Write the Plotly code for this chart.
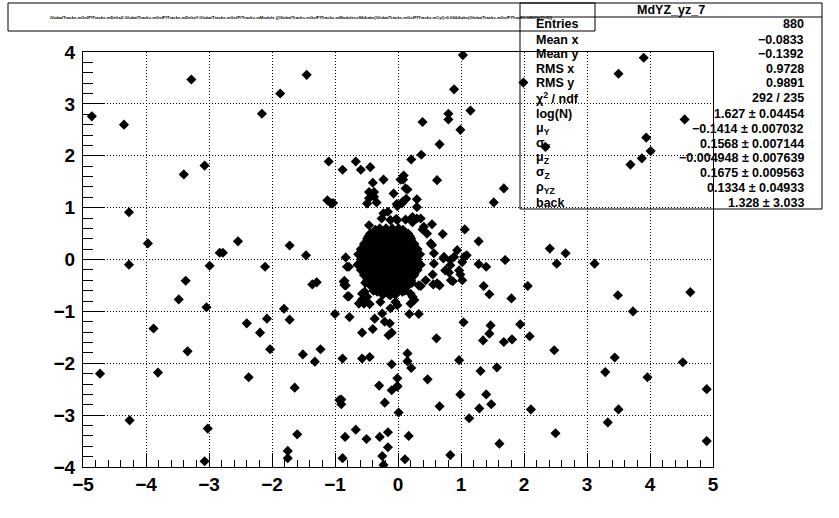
import plotly.graph_objects as go

# ---------------- data ----------------
halo_x = [
    -4.86, -4.35, -3.28, -2.16, -1.87, -1.45, -3.40, -3.07, -4.27, -3.97, -4.27, -2.99, -2.83, -2.78, -2.54,
    -2.11, -1.72, -1.46, -1.10, -0.88, -0.67, -0.59, -0.44, -0.40, -0.38, -0.23, -0.07, 0.04, -1.12, -1.06,
    -0.46, -0.49, -0.34, -0.01, -0.16, -0.26, -0.03, -0.46, -0.83, -0.81,
    1.03, 0.89, 1.99, 3.50, 3.90, 0.80, 0.80, 1.15, 0.39, 0.99, 0.66, 0.37, 0.21, 0.08, 0.15, 0.07, -0.02,
    0.30, 0.30, 0.62, 1.68, 1.52, 4.55, 3.94, 4.01, 3.87, 3.69, 2.34, 0.23, 0.30, 0.54, 0.71, 0.54, 1.06,
    1.28, 0.94, 1.09, 1.70, 1.28, 1.40, 2.41, 2.66, 2.52, 3.12, 0.72, 0.83,
    2.06, 3.49, 4.64, 3.73, 1.80, 1.36, 1.45, 0.87, 0.99, 0.81, 0.55, 0.56, 0.66, 0.36, 0.26, 0.18, 0.33,
    1.04, 0.61, 1.47, 1.45, 1.35, 1.68, 1.81, 1.94, 2.09, 2.48, 3.44, 3.29, 4.52, 3.96, 4.90, 4.90, 0.97,
    0.15, 0.15, 0.21, 1.31, 1.57, 0.47, -0.01, -0.01, 0.99, 1.40, 1.48, 1.29, 0.66, 2.11, 3.50, 3.33, 2.50,
    1.13, 0.01, 0.17, 1.61, 0.83, 0.11,
    -3.37, -3.48, -3.04, -3.88, -3.34, -4.73, -3.81, -4.26, -3.02, -3.07, -2.37, -2.40, -2.19, -2.08, -2.03,
    -1.81, -1.72, -1.64, -1.60, -1.75, -1.75, -1.51, -1.32, -1.23, -1.36, -1.29, -1.00, -0.85, -0.85, -0.80,
    -0.77, -0.62, -0.57, -0.53, -0.45, -0.57, -0.40, -0.37, -0.25, -0.21, -0.13, -0.15, -0.10, -0.88, -0.57,
    -0.45, -0.10, -0.30, -0.10, -0.01, -0.21, -0.93, -0.90, -0.90, -0.67, -0.84, -0.50, -0.29, -0.16, -0.16,
    -0.88, -0.25, -0.23,
    0.09, 0.12, -0.46, -0.38, 0.13, 0.06, -0.23, -0.12, -0.01, 0.12, 0.23, 0.36, 0.41, 0.52, 0.57, 0.73,
    0.89, 1.02, 1.05, 0.57, 0.75, 0.83, 0.97, 1.02, 0.84, 0.62, 0.44, -0.78, -0.86, -0.83, -0.78, -1.03,
    -0.57, -0.49, -0.54, -0.12, -0.28, -0.04, 0.23, 0.33, 0.20, 0.39, 0.46, 0.20, -0.01, -0.12,
]
halo_y = [
    2.76, 2.60, 3.47, 2.81, 3.20, 3.56, 1.64, 1.81, 0.91, 0.31, -0.10, -0.12, 0.13, 0.13, 0.35,
    -0.14, 0.27, 0.08, 1.89, 1.73, 1.89, 1.73, 1.78, 1.48, 1.30, 1.54, 1.27, 1.54, 1.14, 1.08,
    1.18, 1.08, 1.10, 1.03, 0.92, 0.79, 0.78, 0.66, 0.04, -0.14,
    3.94, 3.28, 3.41, 3.58, 3.89, 2.81, 2.70, 2.87, 2.65, 2.50, 2.22, 2.02, 1.93, 1.54, 1.35, 1.11, 1.07,
    1.16, 1.01, 1.53, 1.37, 1.10, 2.70, 2.35, 2.09, 1.95, 1.83, 2.17, 0.82, 0.79, 0.68, 0.49, 0.28, 0.58,
    0.35, 0.18, 0.08, -0.01, -0.09, -0.14, 0.21, 0.12, -0.08, -0.08, 0.02, -0.01,
    -0.51, -0.69, -0.63, -1.00, -0.75, -0.51, -0.67, -0.42, -0.29, -0.25, -0.29, -0.48, -0.50, -0.51, -0.78, -1.05, -1.05,
    -1.21, -1.52, -1.27, -1.43, -1.56, -1.59, -1.54, -1.25, -1.48, -1.75, -1.89, -2.17, -1.98, -2.27, -2.50, -3.50, -1.94,
    -1.81, -1.96, -2.09, -2.15, -2.08, -2.31, -2.29, -2.44, -2.60, -2.60, -2.79, -2.87, -2.83, -2.89, -2.89, -3.14, -3.35,
    -3.06, -2.95, -3.40, -3.55, -3.77, -3.85,
    -0.41, -0.77, -0.92, -1.33, -1.77, -2.20, -2.18, -3.10, -3.26, -3.89, -2.27, -1.23, -1.41, -1.14, -1.73,
    -0.95, -1.16, -2.47, -3.37, -3.69, -3.83, -1.83, -1.97, -1.73, -0.48, -0.44, -1.05, -0.41, -0.49, -0.71,
    -1.11, -0.85, -0.77, -0.62, -0.86, -1.41, -1.34, -1.14, -1.04, -1.20, -1.23, -1.46, -1.41, -1.91, -1.91,
    -1.88, -2.02, -2.43, -2.52, -2.45, -2.76, -2.71, -2.79, -2.70, -3.28, -3.42, -3.46, -3.42, -3.33, -3.62,
    -3.83, -3.79, -3.96,
    1.62, 1.37, 1.30, 1.21, 1.17, 1.08, 0.89, 0.76, 0.76, 0.77, 0.72, 0.79, 0.63, 0.31, 0.12, 0.05,
    0.05, -0.05, 0.05, -0.08, -0.21, -0.11, -0.21, -0.40, -0.40, -0.46, -0.40, -0.14, -0.43, -0.50, -0.71, 1.09,
    -0.66, -0.72, -0.85, -0.69, -0.82, -0.82, -0.72, -0.50, -0.85, 0.58, 0.50, -0.66, -0.88, -0.94,
]

core_x = [
    -0.29, -0.19, -0.09, 0.01,
    -0.44, -0.34, -0.24, -0.14, -0.04, 0.06, 0.16,
    -0.49, -0.39, -0.29, -0.19, -0.09, 0.01, 0.11, 0.21,
    -0.54, -0.44, -0.34, -0.24, -0.14, -0.04, 0.06, 0.16, 0.26,
    -0.59, -0.49, -0.39, -0.29, -0.19, -0.09, 0.01, 0.11, 0.21, 0.31,
    -0.63, -0.54, -0.44, -0.34, -0.24, -0.14, -0.04, 0.06, 0.16, 0.26, 0.35,
    -0.59, -0.49, -0.39, -0.29, -0.19, -0.09, 0.01, 0.11, 0.21, 0.31,
    -0.64, -0.54, -0.44, -0.34, -0.24, -0.14, -0.04, 0.06, 0.16, 0.26, 0.36,
    -0.59, -0.49, -0.39, -0.29, -0.19, -0.09, 0.01, 0.11, 0.21, 0.31,
    -0.54, -0.44, -0.34, -0.24, -0.14, -0.04, 0.06, 0.16, 0.26,
    -0.49, -0.39, -0.29, -0.19, -0.09, 0.01, 0.11, 0.21,
    -0.44, -0.34, -0.24, -0.14, -0.04, 0.06, 0.16,
    -0.39, -0.29, -0.19, -0.09, 0.01, 0.11,
    -0.24, -0.14, -0.04,
    -0.47, 0.19, -0.52, 0.22, -0.36, 0.08, -0.33, 0.07,
]
core_y = [
    0.60, 0.60, 0.60, 0.60,
    0.50, 0.50, 0.50, 0.50, 0.50, 0.50, 0.50,
    0.40, 0.40, 0.40, 0.40, 0.40, 0.40, 0.40, 0.40,
    0.30, 0.30, 0.30, 0.30, 0.30, 0.30, 0.30, 0.30, 0.30,
    0.20, 0.20, 0.20, 0.20, 0.20, 0.20, 0.20, 0.20, 0.20, 0.20,
    0.10, 0.10, 0.10, 0.10, 0.10, 0.10, 0.10, 0.10, 0.10, 0.10, 0.10,
    0.00, 0.00, 0.00, 0.00, 0.00, 0.00, 0.00, 0.00, 0.00, 0.00,
    -0.10, -0.10, -0.10, -0.10, -0.10, -0.10, -0.10, -0.10, -0.10, -0.10, -0.10,
    -0.20, -0.20, -0.20, -0.20, -0.20, -0.20, -0.20, -0.20, -0.20, -0.20,
    -0.30, -0.30, -0.30, -0.30, -0.30, -0.30, -0.30, -0.30, -0.30,
    -0.40, -0.40, -0.40, -0.40, -0.40, -0.40, -0.40, -0.40,
    -0.50, -0.50, -0.50, -0.50, -0.50, -0.50, -0.50,
    -0.60, -0.60, -0.60, -0.60, -0.60, -0.60,
    -0.68, -0.68, -0.68,
    0.45, 0.45, -0.45, -0.45, 0.57, 0.57, -0.62, -0.62,
]

x_ticks = [-5, -4, -3, -2, -1, 0, 1, 2, 3, 4, 5]
x_ticklabels = ["\u22125", "\u22124", "\u22123", "\u22122", "\u22121", "0", "1", "2", "3", "4", "5"]
y_ticks = [-4, -3, -2, -1, 0, 1, 2, 3, 4]
y_ticklabels = ["\u22124", "\u22123", "\u22122", "\u22121", "0", "1", "2", "3", "4"]

hist_name = "MdYZ_yz_7"
title_text = ("GlobalTracks.mGsfPfTracks.mDeltaZ:GlobalTracks.mGsfPfTracks.mDeltaY:GlobalTracks.mGsfPfTracks.mModule "
              "{(GlobalTracks.mGsfPfTracks.mModule==8&&abs(GlobalTracks.mGsfPfTracks.mCyl)<0.06&&"
              "abs(GlobalTracks.mGsfPfTracks.mDeltaY)<5)}")
stat_labels = ["Entries", "Mean x", "Mean y", "RMS x", "RMS y", "\u03c7<sup>2</sup> / ndf", "log(N)",
               "\u03bc<sub>Y</sub>", "\u03c3<sub>Y</sub>", "\u03bc<sub>Z</sub>", "\u03c3<sub>Z</sub>",
               "\u03c1<sub>YZ</sub>", "back"]
stat_values = ["880", "\u22120.0833", "\u22120.1392", "0.9728", "0.9891", "292 / 235",
               "1.627 \u00b1 0.04454", "\u22120.1414 \u00b1 0.007032", "0.1568 \u00b1 0.007144",
               "\u22120.004948 \u00b1 0.007639", "0.1675 \u00b1 0.009563", "0.1334 \u00b1 0.04933",
               "1.328 \u00b1 3.033"]

# ---------------- layout geometry (pixels) ----------------
W, H = 839, 518
PL, PR, PT, PB = 83, 713, 52, 467


def xp(px):
    return (px - PL) / (PR - PL)


def yp(py):
    return (PB - py) / (PB - PT)


FONT = "Liberation Sans, Arial, sans-serif"

fig = go.Figure()
fig.add_trace(go.Scatter(
    x=halo_x + core_x, y=halo_y + core_y, mode="markers",
    marker=dict(symbol="diamond", size=7.8, color="black", line=dict(width=0)),
    hoverinfo="skip", showlegend=False,
))

axis_common = dict(
    showline=True, linecolor="black", linewidth=1, mirror=True,
    ticks="inside", tickcolor="black", tickwidth=1,
    showgrid=True, gridcolor="black", gridwidth=1, griddash="1px,2px",
    zeroline=False,
    tickfont=dict(family=FONT, size=19, color="black", weight="bold"),
)

fig.update_layout(
    width=W, height=H,
    margin=dict(l=PL, r=W - PR, t=PT, b=H - PB, pad=0),
    paper_bgcolor="white", plot_bgcolor="white",
    xaxis=dict(range=[-5, 5], tickmode="array", tickvals=x_ticks, ticktext=x_ticklabels,
               ticklen=14, automargin=False,
               minor=dict(ticks="inside", ticklen=7, tickcolor="black", dtick=0.2, tick0=0, showgrid=False),
               **axis_common),
    yaxis=dict(range=[-4, 4], tickmode="array", tickvals=y_ticks, ticktext=y_ticklabels,
               ticklen=21, ticklabelstandoff=3, automargin=False,
               minor=dict(ticks="inside", ticklen=10, tickcolor="black", dtick=0.2, tick0=0, showgrid=False),
               **axis_common),
    showlegend=False,
)

shapes = []
# title box
shapes.append(dict(type="rect", xref="paper", yref="paper",
                   x0=xp(8), x1=xp(595), y0=yp(31), y1=yp(3),
                   line=dict(color="black", width=1), fillcolor="rgba(0,0,0,0)"))
# stats box
shapes.append(dict(type="rect", xref="paper", yref="paper",
                   x0=xp(520), x1=xp(822), y0=yp(209), y1=yp(3),
                   line=dict(color="black", width=1), fillcolor="rgba(0,0,0,0)"))
shapes.append(dict(type="line", xref="paper", yref="paper",
                   x0=xp(520), x1=xp(822), y0=yp(17), y1=yp(17),
                   line=dict(color="black", width=1)))
fig.update_layout(shapes=shapes)

ann = []
ann.append(dict(text=title_text, xref="paper", yref="paper", x=xp(301.5), y=yp(17),
                xanchor="center", yanchor="middle", showarrow=False,
                font=dict(family=FONT, size=4.2, color="black", weight="bold")))
ann.append(dict(text=hist_name, xref="paper", yref="paper", x=xp(671), y=yp(10),
                xanchor="center", yanchor="middle", showarrow=False,
                font=dict(family=FONT, size=12.5, color="black", weight="bold")))
row_y = [24, 40, 54, 69, 83, 98, 114, 129, 144, 158, 173, 188, 203]
for lab, val, ry in zip(stat_labels, stat_values, row_y):
    ann.append(dict(text=lab, xref="paper", yref="paper", x=xp(534), y=yp(ry),
                    xanchor="left", yanchor="middle", showarrow=False,
                    font=dict(family=FONT, size=12.5, color="black", weight="bold")))
    ann.append(dict(text=val, xref="paper", yref="paper", x=xp(806), y=yp(ry),
                    xanchor="right", yanchor="middle", showarrow=False,
                    font=dict(family=FONT, size=12.5, color="black", weight="bold")))
fig.update_layout(annotations=ann)

fig.write_html("out.html", config={"displayModeBar": False},
               post_script="document.body.style.margin='0';document.body.style.padding='0';")
